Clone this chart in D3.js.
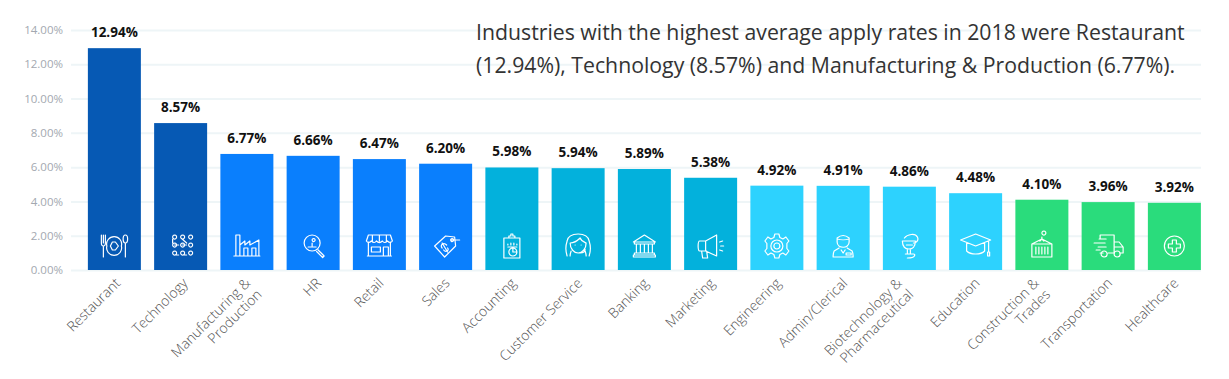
<!DOCTYPE html>
<html>
<head>
<meta charset="utf-8">
<script src="https://cdn.jsdelivr.net/npm/d3@7"></script>
<style>
  html, body { margin: 0; padding: 0; background: #fff; }
  text { font-family: "Open Sans", sans-serif; }
</style>
</head>
<body>
<script>
const width = 1229;
const height = 379;

const categories = ["Restaurant", "Technology", "Manufacturing &|Production", "HR", "Retail", "Sales",
  "Accounting", "Customer Service", "Banking", "Marketing", "Engineering", "Admin/Clerical",
  "Biotechnology &|Pharmaceutical", "Education", "Construction &|Trades", "Transportation", "Healthcare"];
const applyRates = [12.94, 8.57, 6.77, 6.66, 6.47, 6.20, 5.98, 5.94, 5.89, 5.38, 4.92, 4.91, 4.86, 4.48, 4.10, 3.96, 3.92];
const barColors = ["#0659b4", "#0659b4", "#0a7ffd", "#0a7ffd", "#0a7ffd", "#0a7ffd",
  "#03b1dc", "#03b1dc", "#03b1dc", "#03b1dc", "#2dd2fe", "#2dd2fe", "#2dd2fe", "#2dd2fe",
  "#2adc7c", "#2adc7c", "#2adc7c"];
const yTicks = [0, 2, 4, 6, 8, 10, 12, 14];
const titleLines = ["Industries with the highest average apply rates in 2018 were Restaurant",
  "(12.94%), Technology (8.57%) and Manufacturing & Production (6.77%)."];

// line icons, drawn around 0,0
const icons = [
  "M-13,-11V-3Q-13,0 -11,0V11M-11,-11V-3M-9,-11V-3Q-9,0 -11,0M11,-3V11M11,-11C8,-11 8,-3 11,-3C14,-3 14,-11 11,-11ZM7,0A7.5,7.5 0 1 1 -7.5,0A7.5,7.5 0 1 1 7,0ZM4,0L1,-4H-2L-4,0L-2,4H1Z",
  "M-8,-9A2,2 0 1 1 -8,-8.9M-8,-7V-3M-8,-1A2,2 0 1 1 -8,-0.9M0,-9A2,2 0 1 1 0,-8.9M8,-9A2,2 0 1 1 8,-8.9M1.5,-7L6,-3M-6,-1H-2M2,-1H6M8,-1A2,2 0 1 1 8,-0.9M0,-1A2,2 0 1 1 0,-0.9M-8,7A2,2 0 1 1 -8,7.1M0,7A2,2 0 1 1 0,7.1M8,7A2,2 0 1 1 8,7.1M-6,9H-2M2,9H6",
  "M-11,10V-11H-7V10M-13,10H13M-7,-1L-2,-5V-1L3,-5V-1L12,-6V10M-3,10V2H1V10M5,10V2H9V10",
  "M7,-3A8,8 0 1 1 -9,-3A8,8 0 1 1 7,-3ZM-5,1H3M-1,-6A1.5,1.5 0 1 1 -1,-5.9M-1,-3V0M5,4L11,10L9.5,11.5L3.5,5.5",
  "M-11,-4V10M11,-4V10M-12,10H12M-11,-11H11L13,-5Q11,-2 8,-5Q5,-2 3,-5Q0,-2 -3,-5Q-5,-2 -8,-5Q-11,-2 -13,-5ZM-7,-11V-5M0,-11V-5M7,-11V-5M-8,1H1V6H-8ZM4,10V1H9V10",
  "M-11,0L0,-10L9,-9L10,0L-1,11ZM5,-6A1.5,1.5 0 1 1 5,-5.9M6,-6L14,-6M-3.5,2A2.5,2 30 0 1 1,-1M-2,4A2.5,2 30 0 0 2,2M-3.5,-3L2,6",
  "M-8,-8H8V12H-8ZM-3,-8V-10H-1V-12H1V-10H3V-8H-3M-4,-2V-1M-1,-3V-1M2,-3V-1M5,-2V-1M-4,1H5M5,6A4,4 0 1 1 -3,6A4,4 0 1 1 5,6ZM1,2V6H5",
  "M-11,10C-13,4 -12,-2 -11,-5C-10,-11 -4,-12 0,-12C4,-12 10,-11 11,-5C12,-2 13,4 11,10M-8,-3C-4,-3 0,-6 2,-8C3,-5 6,-4 8,-3C8,3 4,7 0,7C-4,7 -8,3 -8,-3ZM-7,5C-8,8 -8,10 -8,10M7,5C8,8 8,10 8,10M7,3C7,6 5,7 2,7M-3,-1H-3M3,-1H3",
  "M-11,-4L0,-11L11,-4ZM-10,-4V-2H10V-4M-8,-2V7M-4,-2V7M0,-2V7M4,-2V7M8,-2V7M-10,7H10V9H-10ZM-11,9H11V11H-11Z",
  "M-11,-5H-5V5H-11C-13,5 -13,-5 -11,-5ZM-5,-5L6,-11V10L-5,5M-9,5L-8,12H-3L-4,5M9,-4L12,-5M10,0H13M9,4L12,5",
  "M-2,-12H2L3,-8.5L6,-7L9,-9L12,-5L10,-2.5V2.5L12,5L9,9L6,7L3,8.5L2,12H-2L-3,8.5L-6,7L-9,9L-12,5L-10,2.5V-2.5L-12,-5L-9,-9L-6,-7L-3,-8.5ZM6,0A6,6 0 1 1 -6,0A6,6 0 1 1 6,0ZM3,0A3,3 0 1 1 -3,0A3,3 0 1 1 3,0Z",
  "M-6,-8Q0,-13 6,-8V-4C6,3 -6,3 -6,-4ZM-6,-7C-3,-6 3,-6 6,-7M-4,2L-9,5Q-10,7 -10,11H10Q10,7 9,5L4,2M-2,4L0,7L2,4M3,7H8V9H3Z",
  "M-7,-5H6C6,1 3,3 -0.5,3C-4,3 -7,1 -7,-5ZM-5,-8C-2,-12 6,-13 8,-9C10,-5 6,-3 4,-3M-2,3V8M1,3V8M-4,8H4Q6,8 5,10Q4,12 -2,12M-3,-1H3",
  "M-15,-6L0,-12L15,-6L0,0ZM-9,-3.5V5C-5,9 5,9 9,5V-3.5M13,-5V6M12,6V10H14V6",
  "M0,-13A2,2 0 1 1 0,-12.9M0,-9V-7M-2,-5L0,-7L2,-5M0,-7L-10,-2M0,-7L10,-2M-10,-2H10V11H-10ZM-6,1V8M-3,1V8M0,1V8M3,1V8M6,1V8",
  "M-8,-11H6V7H0M-8,-11V-7M6,-4H11L15,1V7H12M6,1H15M-9,-7H-2M-14,-3H-3M-10,1H-2M-12,4H-8M-8,7H-5M-1,8A3,3 0 1 1 -7,8A3,3 0 1 1 -1,8ZM12,8A3,3 0 1 1 6,8A3,3 0 1 1 12,8Z",
  "M10,0A10,10 0 1 1 -10,0A10,10 0 1 1 10,0ZM-2,-6H2V-2H6V2H2V6H-2V2H-6V-2H-2Z"
];

const x = d3.scaleBand().domain(categories).range([81.25, 1207.5]).paddingInner(0.2).paddingOuter(0.1);
const y = d3.scaleLinear().domain([0, 14]).range([270, 30]);

const svg = d3.select("body").append("svg")
  .attr("width", width)
  .attr("height", height)
  .style("display", "block");

// y axis + grid
const yAxis = svg.append("g")
  .attr("transform", "translate(71,0)")
  .call(d3.axisLeft(y).tickValues(yTicks).tickSize(0).tickPadding(8).tickFormat(d => d.toFixed(2) + "%"));
yAxis.select(".domain").remove();
yAxis.selectAll("text")
  .style("font-family", '"Open Sans", sans-serif')
  .style("font-size", "11.5px")
  .attr("fill", "#a3a8b0");
yAxis.selectAll("line")
  .attr("x1", 0)
  .attr("x2", 1130)
  .attr("stroke", "#eef5f7")
  .attr("stroke-width", 2);

// bars
const rows = categories.map((c, i) => ({ c, v: applyRates[i], color: barColors[i], icon: icons[i] }));

svg.append("g").selectAll("rect").data(rows).join("rect")
  .attr("x", d => x(d.c))
  .attr("y", d => y(d.v))
  .attr("width", x.bandwidth())
  .attr("height", d => y(0) - y(d.v))
  .attr("fill", d => d.color);

// value labels
svg.append("g").selectAll("text").data(rows).join("text")
  .attr("x", d => x(d.c) + x.bandwidth() / 2)
  .attr("y", d => y(d.v) - 11)
  .attr("text-anchor", "middle")
  .attr("font-size", 13.5)
  .attr("font-weight", 700)
  .attr("fill", "#111")
  .text(d => d.v.toFixed(2) + "%");

// icons
svg.append("g").selectAll("path").data(rows).join("path")
  .attr("transform", d => `translate(${x(d.c) + x.bandwidth() / 2},246)`)
  .attr("d", d => d.icon)
  .attr("fill", "none")
  .attr("stroke", "#fff")
  .attr("stroke-width", 1.2)
  .attr("stroke-linejoin", "round")
  .attr("stroke-linecap", "round");

// x labels, rotated. a few don't sit at the same spot as the rest
const labelShift = {
  "Restaurant": 7, "Technology": 8, "HR": 9,
  "Manufacturing &|Production": 4.5, "Biotechnology &|Pharmaceutical": -6.5, "Construction &|Trades": -2
};
const xLabels = svg.append("g").selectAll("text").data(rows).join("text")
  .attr("transform", d => {
    const shift = labelShift[d.c] === undefined ? 5 : labelShift[d.c];
    return `translate(${x(d.c) + x.bandwidth() / 2 + shift},284) rotate(-45)`;
  })
  .attr("text-anchor", "end")
  .attr("font-size", 14)
  .attr("font-weight", 300)
  .attr("fill", "#555");
xLabels.selectAll("tspan").data(d => d.c.split("|")).join("tspan")
  .attr("x", 0)
  .attr("dy", (d, i) => i ? 16 : 0)
  .text(d => d);

// headline
svg.append("g").selectAll("text").data(titleLines).join("text")
  .attr("x", 476)
  .attr("y", (d, i) => 40 + i * 33)
  .attr("font-size", 21.25)
  .attr("fill", "#333")
  .text(d => d);
</script>
</body>
</html>
